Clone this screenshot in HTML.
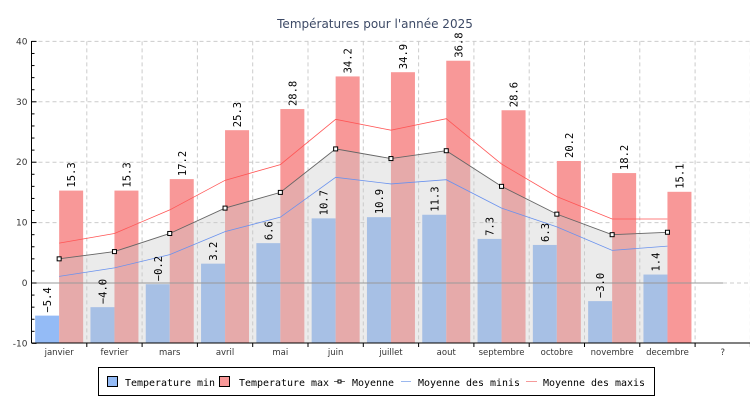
<!DOCTYPE html>
<html><head><meta charset="utf-8"><style>
body{margin:0;background:#fff;}
svg{display:block;}
</style></head><body>
<svg id="s" width="750" height="400" xmlns="http://www.w3.org/2000/svg" font-family="DejaVu Sans, Liberation Sans, sans-serif"></svg>
<script>
const mins=[-5.4,-4.0,-0.2,3.2,6.6,10.7,10.9,11.3,7.3,6.3,-3.0,1.4];
const maxs=[15.3,15.3,17.2,25.3,28.8,34.2,34.9,36.8,28.6,20.2,18.2,15.1];
const moy=[4.0,5.2,8.2,12.4,15.0,22.2,20.6,21.9,16.0,11.4,8.0,8.4];
const mmin=[1.1,2.5,4.7,8.5,10.9,17.5,16.4,17.1,12.4,9.3,5.4,6.1];
const mmax=[6.6,8.2,12.1,17.0,19.6,27.1,25.3,27.2,19.7,14.3,10.6,10.6];
const names=["janvier","fevrier","mars","avril","mai","juin","juillet","aout","septembre","octobre","novembre","decembre","?"];
const X0=31.5,W=55.3;
const Y=v=>283-6.04*v;
const C=i=>X0+W*i+27.65;
let s='';
s+=`<text x="375" y="28" text-anchor="middle" font-size="12" fill="#3d4a66">Températures pour l'année 2025</text>`;
for(let v=10;v<=40;v+=10) s+=`<line x1="${X0}" x2="750" y1="${Y(v)}" y2="${Y(v)}" stroke="#ccc" stroke-dasharray="4,3"/>`;
s+=`<line x1="723" x2="750" y1="${Y(0)}" y2="${Y(0)}" stroke="#ccc" stroke-dasharray="4,3"/>`;
for(let i=1;i<=13;i++){const x=X0+W*i;s+=`<line x1="${x}" x2="${x}" y1="${Y(40)}" y2="343" stroke="#ccc" stroke-dasharray="4,3"/>`;}
for(let i=0;i<12;i++){const c=C(i);
 s+=`<rect x="${c-24}" y="${Y(mins[i])}" width="24" height="${343-Y(mins[i])}" fill="#94bbf6"/>`;
 s+=`<rect x="${c}" y="${Y(maxs[i])}" width="24" height="${343-Y(maxs[i])}" fill="#f89898"/>`;}
let p=moy.map((v,i)=>`${C(i)},${Y(v)}`).join(' ');
s+=`<polygon points="${C(0)},343 ${p} ${C(11)},343" fill="rgba(200,200,200,0.37)"/>`;
s+=`<line x1="${X0}" x2="723" y1="${Y(0)}" y2="${Y(0)}" stroke="#999"/>`;
s+=`<polyline points="${mmax.map((v,i)=>`${C(i)},${Y(v)}`).join(' ')}" fill="none" stroke="#f55" stroke-width="0.8"/>`;
s+=`<polyline points="${mmin.map((v,i)=>`${C(i)},${Y(v)}`).join(' ')}" fill="none" stroke="#6a92ee" stroke-width="0.8"/>`;
s+=`<polyline points="${p}" fill="none" stroke="#666" stroke-width="0.9"/>`;
moy.forEach((v,i)=>s+=`<rect x="${C(i)-2}" y="${Y(v)-2}" width="4" height="4" fill="#fff" stroke="#000"/>`);
const lab=(x,v)=>{const y=Y(v)-3;s+=`<text transform="translate(${x+4},${y}) rotate(-90)" font-family="DejaVu Sans Mono, Liberation Mono, monospace" font-size="10.5" fill="#000">${v.toFixed(1).replace('-','−')}</text>`;};
for(let i=0;i<12;i++){lab(C(i)-12,mins[i]);lab(C(i)+12,maxs[i]);}
s+=`<line x1="${X0}" x2="${X0}" y1="41" y2="343" stroke="#000"/>`;
s+=`<line x1="${X0}" x2="750" y1="343" y2="343" stroke="#000"/>`;
for(let v=-10;v<=40;v+=2){const y=Y(v);const L=(v%10==0)?5:3;s+=`<line x1="${X0}" x2="${X0+L}" y1="${y}" y2="${y}" stroke="#000"/>`;}
for(let v=-10;v<=40;v+=10) s+=`<text x="${X0-4}" y="${Y(v)+3}" text-anchor="end" font-size="9" fill="#333">${v}</text>`;
for(let i=1;i<=13;i++){const x=X0+W*i;s+=`<line x1="${x}" x2="${x}" y1="343" y2="347" stroke="#000"/>`;}
names.forEach((n,i)=>s+=`<text x="${C(i)}" y="355" text-anchor="middle" font-size="8.5" fill="#333">${n}</text>`);
s+=`<rect x="98.5" y="367.5" width="556" height="28" fill="#fff" stroke="#000"/>`;
const T=(x,w,t)=>s+=`<text x="${x}" y="386" font-family="DejaVu Sans Mono, Liberation Mono, monospace" font-size="10" textLength="${w}" lengthAdjust="spacingAndGlyphs">${t}</text>`;
s+=`<rect x="107.5" y="376.5" width="10" height="10" fill="#94bbf6" stroke="#000"/>`;
T(125,90,"Temperature min");
s+=`<rect x="219.5" y="376.5" width="10" height="10" fill="#f89898" stroke="#000"/>`;
T(239,90,"Temperature max");
s+=`<line x1="334" x2="345" y1="381.5" y2="381.5" stroke="#666"/><rect x="338" y="380" width="3" height="3" fill="#fff" stroke="#000"/>`;
T(352,42,"Moyenne");
s+=`<line x1="401" x2="411" y1="381.5" y2="381.5" stroke="#9bb8ee"/>`;
T(418,102,"Moyenne des minis");
s+=`<line x1="526" x2="537" y1="381.5" y2="381.5" stroke="#f59a9a"/>`;
T(543,102,"Moyenne des maxis");
document.getElementById('s').innerHTML=s;
</script>
</body></html>
